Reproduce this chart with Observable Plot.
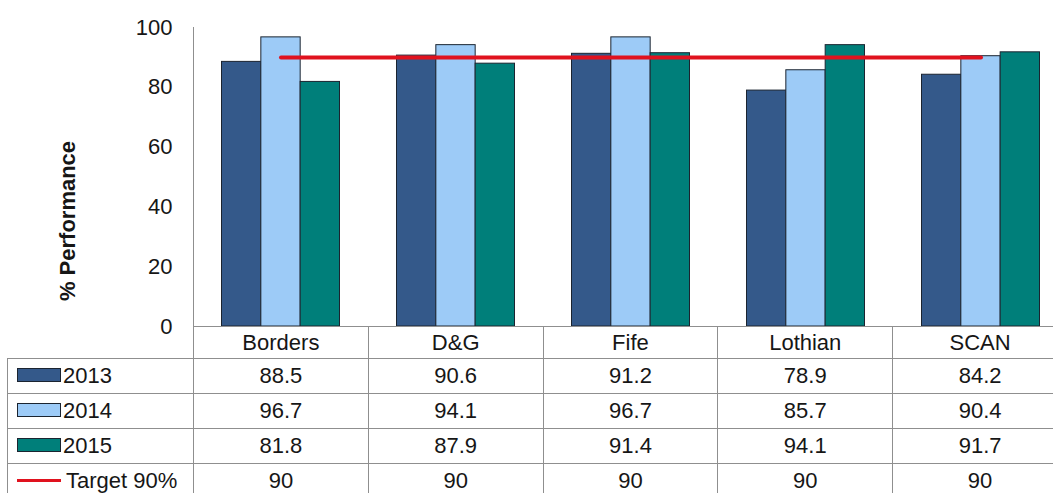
<!DOCTYPE html>
<html>
<head>
<meta charset="utf-8">
<script src="https://cdn.jsdelivr.net/npm/d3@7"></script>
<script src="https://cdn.jsdelivr.net/npm/@observablehq/plot@0.6"></script>
<style>
  html, body { margin: 0; padding: 0; background: #fff; overflow: hidden; }
  #wrap { width: 1068px; position: relative; font-family: "Liberation Sans", Arial, sans-serif; }
  #wrap svg { display: block; }
  table.dt { border-collapse: collapse; table-layout: fixed; margin-left: 7px; font-size: 22px; color: #161616; }
  table.dt td { padding: 0; text-align: center; border: 1px solid #8f8f8f; white-space: nowrap; overflow: hidden; }
  table.dt tr.head td { height: 31px; border-top: none; }
  table.dt tr.head td.blank { border-left: none; border-top: none; }
  table.dt tr.row td { height: 34px; }
  table.dt td.lab { text-align: left; padding-left: 9px; }
  .sw { display: inline-block; width: 42px; height: 12px; border: 1px solid #1b2430; vertical-align: middle; margin-right: 2px; position: relative; top: -2px; }
  .ln { display: inline-block; width: 44px; height: 3px; vertical-align: middle; margin-right: 5px; position: relative; top: -2px; }
</style>
</head>
<body>
<div id="wrap"></div>
<script>
// ---- data ----
const categories = ["Borders", "D&G", "Fife", "Lothian", "SCAN"];
const years = ["2013", "2014", "2015"];
const v2013 = [88.5, 90.6, 91.2, 78.9, 84.2];
const v2014 = [96.7, 94.1, 96.7, 85.7, 90.4];
const v2015 = [81.8, 87.9, 91.4, 94.1, 91.7];
const target = [90, 90, 90, 90, 90];
const targetLabel = "Target 90%";
const yTicks = [0, 20, 40, 60, 80, 100];
const yLabel = "% Performance";
const seriesColors = ["#34598A", "#9DCBF7", "#007F7A"];
const targetColor = "#E0121E";

const seriesValues = [v2013, v2014, v2015];

// ---- layout ----
const width = 1068, height = 327;
const marginLeft = 193, marginRight = 0, marginTop = 27, marginBottom = 1;
const band = (width - marginLeft - marginRight) / categories.length;
const groupPad = 28.5;
const barW = (band - 2 * groupPad) / years.length;

const barMarks = years.map((yr, i) =>
  Plot.barY(categories.map((c, j) => ({category: c, value: seriesValues[i][j]})), {
    x: "category", y: "value",
    fill: seriesColors[i], stroke: "#1b2430", strokeWidth: 1,
    insetLeft: groupPad + i * barW,
    insetRight: band - groupPad - (i + 1) * barW
  })
);

const chart = Plot.plot({
  width, height, marginLeft, marginRight, marginTop, marginBottom,
  style: {fontFamily: '"Liberation Sans", Arial, sans-serif', fontSize: "22px", color: "#161616", background: "transparent", overflow: "visible"},
  x: {type: "band", domain: categories, padding: 0, axis: null},
  y: {domain: [0, 100], ticks: yTicks, axis: null},
  marks: [
    ...barMarks,
    Plot.lineY(categories.map((c, j) => ({category: c, value: target[j]})), {
      x: "category", y: "value", stroke: targetColor, strokeWidth: 4, strokeLinecap: "round"
    }),
    Plot.ruleY([0], {stroke: "#8f8f8f", strokeWidth: 1}),
    Plot.frame({anchor: "left", stroke: "#8f8f8f", strokeWidth: 1}),
    Plot.axisY({ticks: yTicks, tickSize: 0, tickPadding: 21, label: null, fontSize: 22}),
    Plot.text([yLabel], {text: d => d, frameAnchor: "left", textAnchor: "middle", rotate: -90, dx: -126, dy: 44, fontWeight: "bold", fontSize: 22, fill: "#161616"})
  ]
});
document.getElementById("wrap").appendChild(chart);

// ---- data table ----
const tbl = document.createElement("table");
tbl.className = "dt";
const cg = document.createElement("colgroup");
const col0 = document.createElement("col"); col0.style.width = (marginLeft - 7) + "px"; cg.appendChild(col0);
categories.forEach(() => { const c = document.createElement("col"); c.style.width = band + "px"; cg.appendChild(c); });
tbl.appendChild(cg);

const head = document.createElement("tr"); head.className = "head";
const blank = document.createElement("td"); blank.className = "blank"; blank.style.borderBottom = "1px solid #8f8f8f"; head.appendChild(blank);
categories.forEach(c => { const td = document.createElement("td"); td.textContent = c; head.appendChild(td); });
tbl.appendChild(head);

years.forEach((yr, i) => {
  const tr = document.createElement("tr"); tr.className = "row";
  const lab = document.createElement("td"); lab.className = "lab";
  const sw = document.createElement("span"); sw.className = "sw"; sw.style.background = seriesColors[i];
  lab.appendChild(sw); lab.appendChild(document.createTextNode(yr));
  tr.appendChild(lab);
  seriesValues[i].forEach(v => { const td = document.createElement("td"); td.textContent = v.toFixed(1); tr.appendChild(td); });
  tbl.appendChild(tr);
});
{
  const tr = document.createElement("tr"); tr.className = "row";
  const lab = document.createElement("td"); lab.className = "lab";
  const ln = document.createElement("span"); ln.className = "ln"; ln.style.background = targetColor;
  lab.appendChild(ln); lab.appendChild(document.createTextNode(targetLabel));
  tr.appendChild(lab);
  target.forEach(v => { const td = document.createElement("td"); td.textContent = String(v); tr.appendChild(td); });
  tbl.appendChild(tr);
}
document.getElementById("wrap").appendChild(tbl);
</script>
</body>
</html>
